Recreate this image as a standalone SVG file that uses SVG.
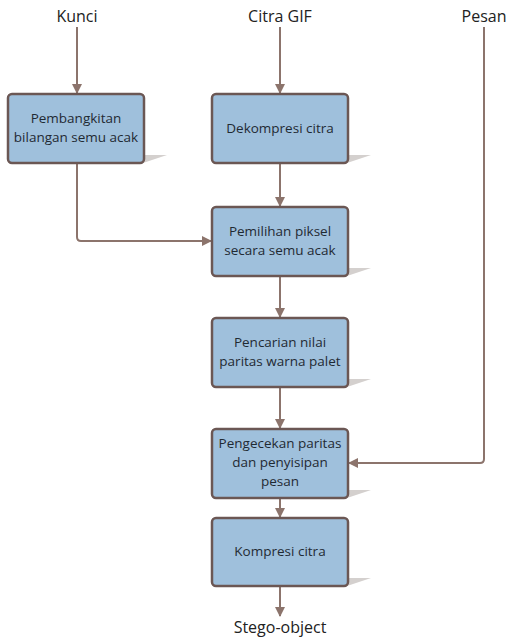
<svg xmlns="http://www.w3.org/2000/svg" width="507" height="637" viewBox="0 0 507 637">
<defs>
<style>
.box{fill:#9fc0dc;stroke:#6b5754;stroke-width:2.5}
.sh{fill:#d4d0ce}
.lbl{font-family:"Open Sans","Liberation Sans",sans-serif;font-size:13.5px;fill:#1f2a33;text-anchor:middle}
.io{font-family:"Open Sans","Liberation Sans",sans-serif;font-size:16px;fill:#222;text-anchor:middle}
.c{fill:none;stroke:#8c746c;stroke-width:2}
</style>
<marker id="ah" markerWidth="10" markerHeight="10" refX="9" refY="5" orient="auto" markerUnits="userSpaceOnUse">
<path d="M0,0 L10,5 L0,10 Z" fill="#8c746c"/>
</marker>
</defs>
<rect width="507" height="637" fill="#fff"/>
<text class="io" x="77" y="22">Kunci</text>
<text class="io" x="280" y="22">Citra GIF</text>
<text class="io" x="484" y="22">Pesan</text>
<text class="io" x="280" y="633">Stego-object</text>
<g id="connectors">
<path class="c" d="M77,27 V93" marker-end="url(#ah)"/>
<path class="c" d="M280,27 V93" marker-end="url(#ah)"/>
<path class="c" d="M280,164 V206" marker-end="url(#ah)"/>
<path class="c" d="M77,164 V237 Q77,241 81,241 H211" marker-end="url(#ah)"/>
<path class="c" d="M280,277 V317" marker-end="url(#ah)"/>
<path class="c" d="M280,388 V428" marker-end="url(#ah)"/>
<path class="c" d="M484,27 V459 Q484,463 480,463 H349" marker-end="url(#ah)"/>
<path class="c" d="M280,499 V517" marker-end="url(#ah)"/>
<path class="c" d="M280,587 V616" marker-end="url(#ah)"/>
</g>
<g id="n1">
<polygon class="sh" points="143,155 167,155 143,163"/>
<rect class="box" x="8" y="94" width="136" height="69" rx="4"/>
<text class="lbl" x="76" y="123">Pembangkitan</text>
<text class="lbl" x="76" y="142">bilangan semu acak</text>
</g>
<g id="n2">
<polygon class="sh" points="347,155 371,155 347,163"/>
<rect class="box" x="212" y="94" width="136" height="69" rx="4"/>
<text class="lbl" x="280" y="133">Dekompresi citra</text>
</g>
<g id="n3">
<polygon class="sh" points="347,268 371,268 347,276"/>
<rect class="box" x="212" y="207" width="136" height="69" rx="4"/>
<text class="lbl" x="280" y="236">Pemilihan piksel</text>
<text class="lbl" x="280" y="255">secara semu acak</text>
</g>
<g id="n4">
<polygon class="sh" points="347,379 371,379 347,387"/>
<rect class="box" x="212" y="318" width="136" height="69" rx="4"/>
<text class="lbl" x="280" y="347">Pencarian nilai</text>
<text class="lbl" x="280" y="366">paritas warna palet</text>
</g>
<g id="n5">
<polygon class="sh" points="347,490 371,490 347,498"/>
<rect class="box" x="212" y="429" width="136" height="69" rx="4"/>
<text class="lbl" x="280" y="448">Pengecekan paritas</text>
<text class="lbl" x="280" y="467">dan penyisipan</text>
<text class="lbl" x="280" y="486">pesan</text>
</g>
<g id="n6">
<polygon class="sh" points="347,578 371,578 347,586"/>
<rect class="box" x="212" y="518" width="136" height="68" rx="4"/>
<text class="lbl" x="280" y="556">Kompresi citra</text>
</g>
</svg>
